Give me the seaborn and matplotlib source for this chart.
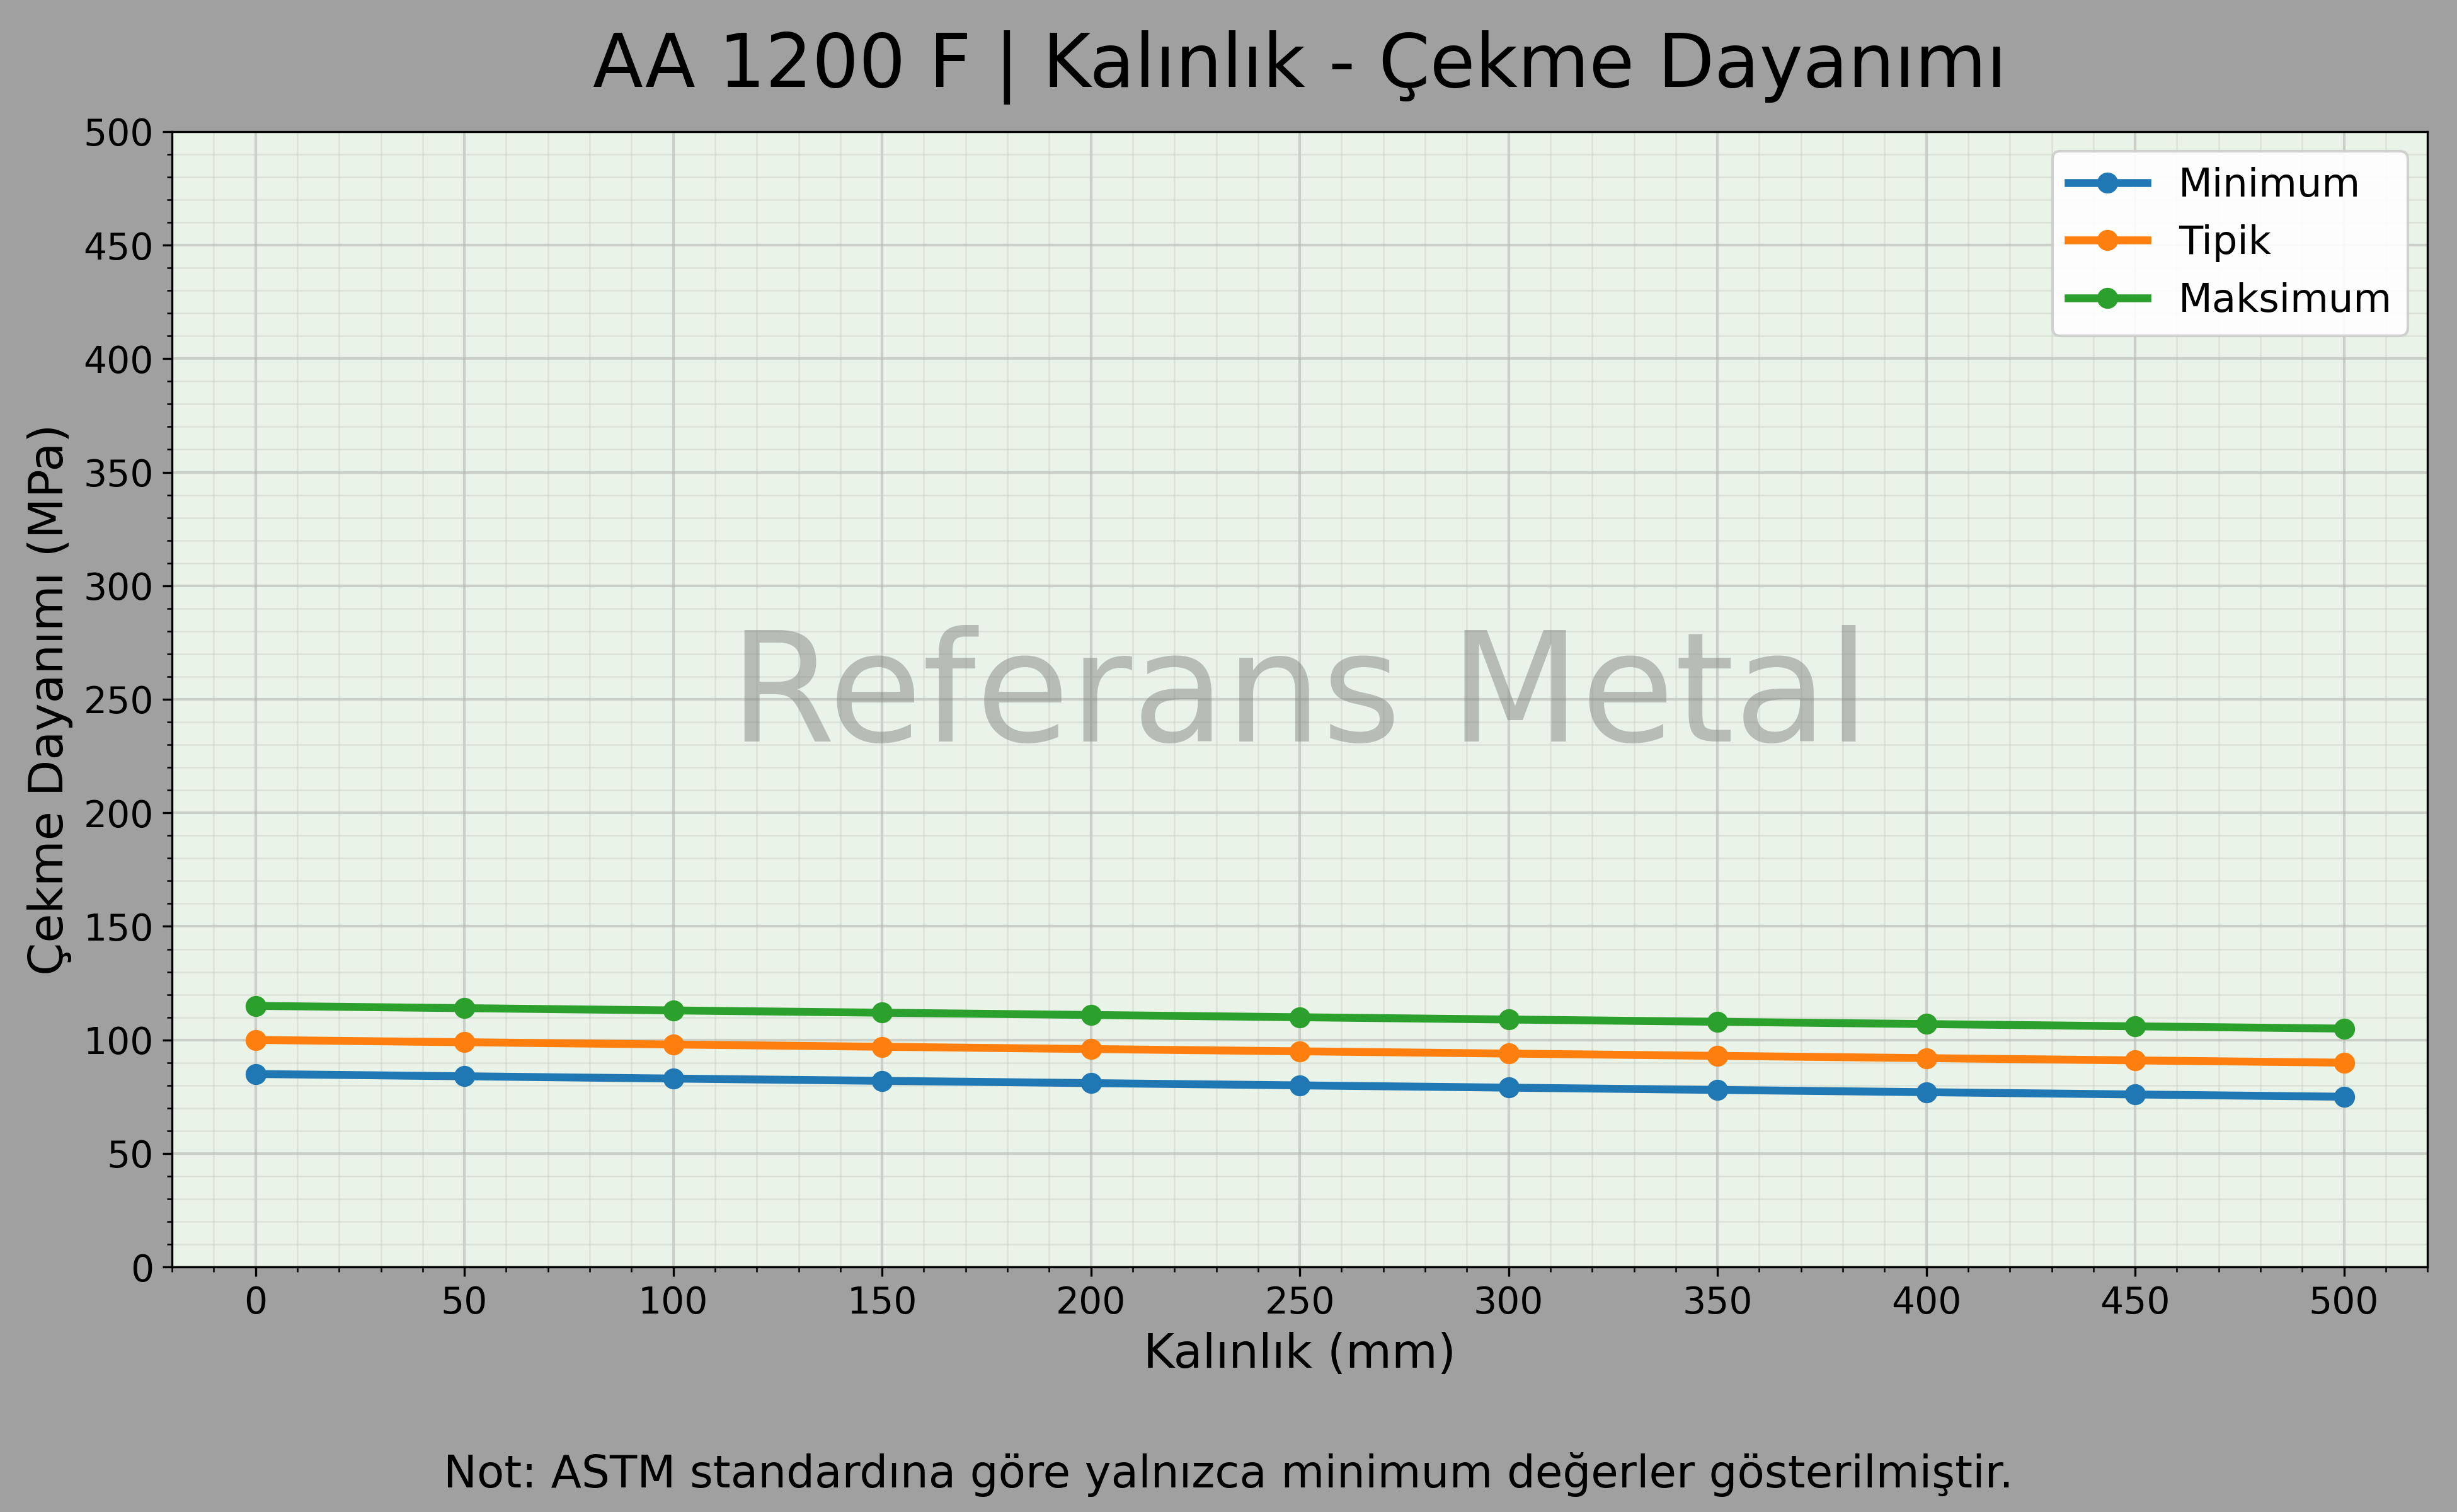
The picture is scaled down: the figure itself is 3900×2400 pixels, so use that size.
import numpy as np
import pandas as pd
import matplotlib
matplotlib.use("Agg")
import matplotlib.pyplot as plt
from matplotlib.ticker import MultipleLocator
import seaborn as sns

# data
kalinlik = [0, 50, 100, 150, 200, 250, 300, 350, 400, 450, 500]
minimum = [85, 84, 83, 82, 81, 80, 79, 78, 77, 76, 75]
tipik = [100, 99, 98, 97, 96, 95, 94, 93, 92, 91, 90]
maksimum = [115, 114, 113, 112, 111, 110, 109, 108, 107, 106, 105]
seri_adlari = ["Minimum", "Tipik", "Maksimum"]
renkler = ["#1f77b4", "#ff7f0e", "#2ca02c"]

df = pd.DataFrame({"Kalınlık": kalinlik, "Minimum": minimum,
                   "Tipik": tipik, "Maksimum": maksimum})
df_long = df.melt(id_vars="Kalınlık", var_name="Seri", value_name="Dayanım")

plt.rcParams["font.family"] = ["DejaVu Sans"]

fig, ax = plt.subplots(figsize=(13, 8), dpi=300)
fig.patch.set_facecolor("#a0a0a0")
ax.set_facecolor("#eaf3e7")

sns.lineplot(data=df_long, x="Kalınlık", y="Dayanım", hue="Seri",
             hue_order=seri_adlari, palette=renkler, marker="o",
             markersize=8, markeredgewidth=0, linewidth=3, ax=ax, zorder=3)

# watermark
ax.text(0.5, 0.5, "Referans Metal", transform=ax.transAxes, fontsize=58,
        color="#7a7d78", alpha=0.45, ha="center", va="center", zorder=1)

ax.set_xlim(-20, 520)
ax.set_ylim(0, 500)
ax.xaxis.set_major_locator(MultipleLocator(50))
ax.xaxis.set_minor_locator(MultipleLocator(10))
ax.yaxis.set_major_locator(MultipleLocator(50))
ax.yaxis.set_minor_locator(MultipleLocator(10))
ax.grid(which="major", color="#b5b8b2", linewidth=1.0, alpha=0.6, zorder=0)
ax.grid(which="minor", color="#c8cec5", linewidth=0.6, alpha=0.45, zorder=0)
ax.set_axisbelow(True)
ax.tick_params(axis="both", which="major", labelsize=14)

ax.set_xlabel("Kalınlık (mm)", fontsize=18)
ax.set_ylabel("Çekme Dayanımı (MPa)", fontsize=18)
ax.set_title("AA 1200 F | Kalınlık - Çekme Dayanımı", fontsize=28, pad=17)

leg = ax.legend(loc="upper right", fontsize=15, framealpha=0.9)
leg.set_title(None)

fig.text(0.5, 0.025, "Not: ASTM standardına göre yalnızca minimum değerler gösterilmiştir.",
         ha="center", va="center", fontsize=17)

fig.subplots_adjust(left=0.070, right=0.988, top=0.913, bottom=0.162)
fig.savefig("out.png", dpi=300, facecolor=fig.get_facecolor())
